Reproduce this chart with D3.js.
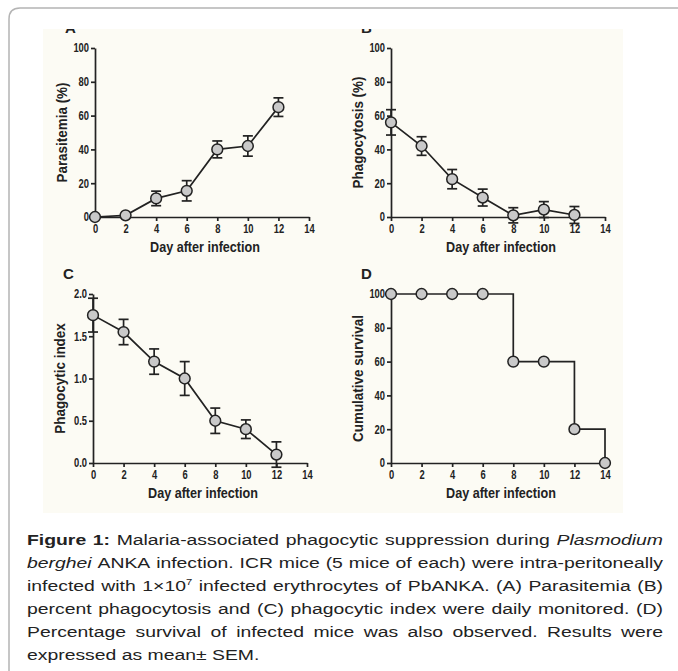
<!DOCTYPE html>
<html>
<head>
<meta charset="utf-8">
<script src="https://cdn.jsdelivr.net/npm/d3@7/dist/d3.min.js"></script>
<style>
body { margin: 0; background: #fff; }
svg { display: block; }
.axis text { font-family: "Liberation Sans", Arial, sans-serif; font-weight: bold; font-size: 12px; fill: #222; }
.axis path, .axis line { stroke: #222; stroke-width: 1.7px; }
.title { font-family: "Liberation Sans", Arial, sans-serif; font-weight: bold; font-size: 14px; fill: #222; }
.letter { font-family: "Liberation Sans", Arial, sans-serif; font-weight: bold; font-size: 15px; fill: #222; }
.caption { font-family: "Liberation Sans", Arial, sans-serif; font-size: 15.5px; fill: #222; }
</style>
</head>
<body>
<svg id="fig" width="678" height="671"></svg>
<script>
// values
var days = [0, 2, 4, 6, 8, 10, 12];
var parasitemia = [0, 1, 11, 15.5, 40, 42, 65];
var parasitemiaSem = [0, 0, 4.3, 6, 5, 6, 5.5];
var phagocytosis = [56, 42, 22.4, 11.5, 1, 4.4, 1.2];
var phagocytosisSem = [7.5, 5.5, 5.7, 5, 4.5, 4.7, 5];
var phagoIndex = [1.75, 1.55, 1.2, 1.0, 0.5, 0.4, 0.1];
var phagoIndexSem = [0.2, 0.15, 0.15, 0.2, 0.15, 0.11, 0.15];
var survivalDays = [0, 2, 4, 6, 8, 10, 12, 14];
var survival = [100, 100, 100, 100, 60, 60, 20, 0];
var dayTicks = [0, 2, 4, 6, 8, 10, 12, 14];
var percentTicks = [0, 20, 40, 60, 80, 100];
var indexTicks = [0, 0.5, 1, 1.5, 2];

var captionLines = [
  ["**Figure", "1:**", "Malaria-associated", "phagocytic", "suppression", "during", "*Plasmodium*"],
  ["*berghei*", "ANKA", "infection.", "ICR", "mice", "(5", "mice", "of", "each)", "were", "intra-peritoneally"],
  ["infected", "with", "1×10^7", "infected", "erythrocytes", "of", "PbANKA.", "(A)", "Parasitemia", "(B)"],
  ["percent", "phagocytosis", "and", "(C)", "phagocytic", "index", "were", "daily", "monitored.", "(D)"],
  ["Percentage", "survival", "of", "infected", "mice", "was", "also", "observed.", "Results", "were"],
  ["expressed", "as", "mean±", "SEM."]
];

var svg = d3.select("#fig");

// the labels in the scanned figure are set in a narrow face
function squeeze(sel, k) {
  sel.each(function () {
    var w = this.getComputedTextLength();
    d3.select(this).attr("textLength", w * k).attr("lengthAdjust", "spacingAndGlyphs");
  });
}

// frame around the figure
svg.append("path")
  .attr("d", "M9,671 L9,19 Q9,8 20,8 L678,8")
  .attr("fill", "none")
  .attr("stroke", "#b4b4b4")
  .attr("stroke-width", 1.5);

svg.append("defs").append("clipPath").attr("id", "imgclip")
  .append("rect").attr("x", 43).attr("y", 29).attr("width", 580).attr("height", 484);

var img = svg.append("g").attr("clip-path", "url(#imgclip)");
img.append("rect").attr("x", 43).attr("y", 29).attr("width", 580).attr("height", 484).attr("fill", "#fcfbf4");

function panel(opt) {
  var g = img.append("g");
  var x = d3.scaleLinear().domain([0, 14]).range([opt.left, opt.left + 214]);
  var y = d3.scaleLinear().domain([0, opt.yMax]).range([opt.bottom, opt.bottom - 169]);

  var xa = g.append("g").attr("class", "axis")
    .attr("transform", "translate(0," + opt.bottom + ")")
    .call(d3.axisBottom(x).tickValues(dayTicks).tickSize(4).tickSizeOuter(0).tickPadding(3));

  var ya = g.append("g").attr("class", "axis")
    .attr("transform", "translate(" + opt.left + ",0)")
    .call(d3.axisLeft(y).tickValues(opt.yTicks).tickFormat(opt.fmt).tickSize(4).tickSizeOuter(0).tickPadding(2));

  squeeze(xa.selectAll("text"), 0.78);
  squeeze(ya.selectAll("text"), 0.78);

  var xt = g.append("text").attr("class", "title")
    .attr("x", opt.left + 110).attr("y", opt.bottom + 35)
    .attr("text-anchor", "middle")
    .text("Day after infection");

  var yt = g.append("text").attr("class", "title")
    .attr("transform", "translate(" + (opt.left - 28.5) + "," + (opt.bottom - 84.5) + ") rotate(-90)")
    .attr("text-anchor", "middle")
    .text(opt.yLabel);

  squeeze(xt, 0.9);
  squeeze(yt, 0.96);

  g.append("text").attr("class", "letter")
    .attr("x", opt.left - 30).attr("y", opt.bottom - 184)
    .text(opt.letter);

  var pts = opt.xs.map(function (d, i) { return [d, opt.ys[i], opt.err ? opt.err[i] : 0]; });

  var line = d3.line()
    .x(function (d) { return x(d[0]); })
    .y(function (d) { return y(d[1]); });
  if (opt.step) line.curve(d3.curveStepAfter);

  g.append("path").datum(pts)
    .attr("d", line)
    .attr("fill", "none")
    .attr("stroke", "#222")
    .attr("stroke-width", 1.7);

  if (opt.err) {
    var eb = g.selectAll(".err").data(pts.filter(function (d) { return d[2] > 0; }))
      .enter().append("g").attr("class", "err")
      .attr("stroke", "#222").attr("stroke-width", 1.7);
    eb.append("line")
      .attr("x1", function (d) { return x(d[0]); })
      .attr("x2", function (d) { return x(d[0]); })
      .attr("y1", function (d) { return y(d[1] - d[2]); })
      .attr("y2", function (d) { return y(d[1] + d[2]); });
    eb.append("line")
      .attr("x1", function (d) { return x(d[0]) - 5; })
      .attr("x2", function (d) { return x(d[0]) + 5; })
      .attr("y1", function (d) { return y(d[1] + d[2]); })
      .attr("y2", function (d) { return y(d[1] + d[2]); });
    eb.append("line")
      .attr("x1", function (d) { return x(d[0]) - 5; })
      .attr("x2", function (d) { return x(d[0]) + 5; })
      .attr("y1", function (d) { return y(d[1] - d[2]); })
      .attr("y2", function (d) { return y(d[1] - d[2]); });
  }

  g.selectAll(".pt").data(pts)
    .enter().append("circle")
    .attr("cx", function (d) { return x(d[0]); })
    .attr("cy", function (d) { return y(d[1]); })
    .attr("r", 5.4)
    .attr("fill", "#c9c9c9")
    .attr("stroke", "#222")
    .attr("stroke-width", 1.5);
}

panel({ letter: "A", left: 95, bottom: 217, yMax: 100, yTicks: percentTicks, fmt: d3.format("d"),
        yLabel: "Parasitemia (%)", xs: days, ys: parasitemia, err: parasitemiaSem });
panel({ letter: "B", left: 391, bottom: 217, yMax: 100, yTicks: percentTicks, fmt: d3.format("d"),
        yLabel: "Phagocytosis (%)", xs: days, ys: phagocytosis, err: phagocytosisSem });
panel({ letter: "C", left: 93, bottom: 463, yMax: 2, yTicks: indexTicks, fmt: d3.format(".1f"),
        yLabel: "Phagocytic index", xs: days, ys: phagoIndex, err: phagoIndexSem });
panel({ letter: "D", left: 391, bottom: 463, yMax: 100, yTicks: percentTicks, fmt: d3.format("d"),
        yLabel: "Cumulative survival", xs: survivalDays, ys: survival, step: true });

// caption, justified word by word; the scan is wider than plain Arial
var capLeft = 27, capRight = 663, capTop = 545, capLead = 23, stretch = 1.25;
var cap = svg.append("g").attr("transform", "translate(" + capLeft + ",0) scale(" + stretch + ",1)");
var avail = (capRight - capLeft) / stretch;
var bold = false;
captionLines.forEach(function (words, li) {
  var nodes = words.map(function (w) {
    var t = cap.append("text").attr("class", "caption").attr("y", capTop + li * capLead);
    var italic = false, b = bold;
    if (w.indexOf("**") === 0) { b = true; bold = true; w = w.slice(2); }
    if (w.slice(-2) === "**") { w = w.slice(0, -2); bold = false; }
    if (w.charAt(0) === "*") { italic = true; w = w.slice(1, -1); }
    var parts = w.split("^");
    var s = t.append("tspan").text(parts[0]);
    if (b) s.attr("font-weight", "bold");
    if (italic) s.attr("font-style", "italic");
    if (parts[1]) t.append("tspan").attr("font-size", "9px").attr("dy", -6).text(parts[1]);
    return t;
  });
  var widths = nodes.map(function (t) { return t.node().getComputedTextLength(); });
  var total = d3.sum(widths);
  var last = li === captionLines.length - 1;
  var gap = last ? 4.3 : (avail - total) / (words.length - 1);
  var cx = 0;
  nodes.forEach(function (t, i) {
    t.attr("x", cx);
    cx += widths[i] + gap;
  });
});
</script>
</body>
</html>
